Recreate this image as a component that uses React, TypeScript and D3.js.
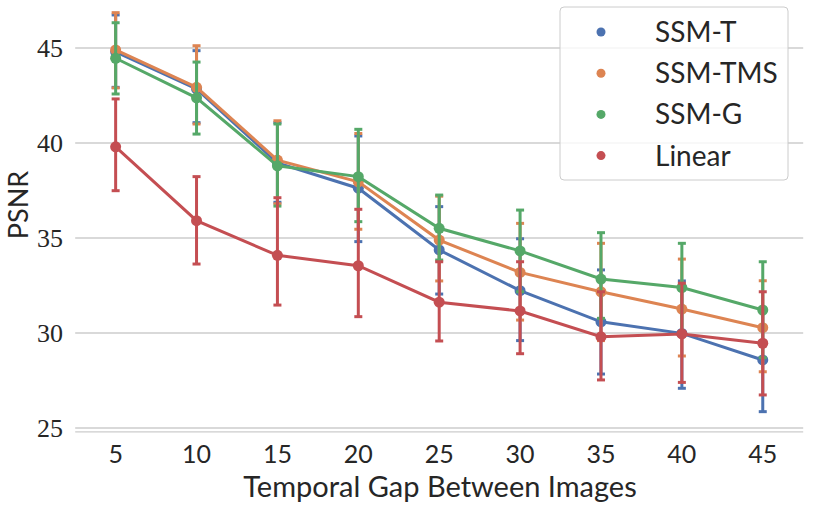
import React from "react";
import * as d3 from "d3";

const W = 831;
const H = 509;

const gaps = ["5", "10", "15", "20", "25", "30", "35", "40", "45"];
const yTicks = [25, 30, 35, 40, 45];

const seriesNames = ["SSM-T", "SSM-TMS", "SSM-G", "Linear"];
const seriesColors = ["#4C72B0", "#DD8452", "#55A868", "#C44E52"];

const ssmTMean = [44.8, 42.85, 38.95, 37.62, 34.37, 32.23, 30.59, 29.98, 28.58];
const ssmTLow = [42.93, 41.07, 36.88, 34.81, 32.05, 29.6, 27.84, 27.09, 25.86];
const ssmTHigh = [46.74, 44.86, 41.07, 40.37, 36.65, 34.96, 33.32, 32.74, 31.3];

const ssmTMSMean = [44.9, 42.93, 39.1, 37.96, 34.89, 33.19, 32.17, 31.26, 30.28];
const ssmTMSLow = [42.9, 41.0, 36.8, 35.46, 32.74, 30.68, 29.6, 28.79, 27.96];
const ssmTMSHigh = [46.86, 45.12, 41.17, 40.5, 37.2, 35.77, 34.72, 33.89, 32.75];

const ssmGMean = [44.46, 42.38, 38.8, 38.23, 35.51, 34.32, 32.84, 32.39, 31.21];
const ssmGLow = [42.58, 40.47, 36.68, 35.86, 33.84, 32.17, 30.77, 30.06, 28.7];
const ssmGHigh = [46.33, 44.26, 41.0, 40.72, 37.26, 36.47, 35.28, 34.72, 33.75];

const linearMean = [39.8, 35.91, 34.09, 33.54, 31.62, 31.16, 29.8, 29.95, 29.46];
const linearLow = [37.49, 33.63, 31.47, 30.86, 29.58, 28.91, 27.53, 27.4, 26.74];
const linearHigh = [42.32, 38.23, 37.12, 36.51, 33.75, 33.75, 32.17, 32.62, 32.17];

const means = [ssmTMean, ssmTMSMean, ssmGMean, linearMean];
const lows = [ssmTLow, ssmTMSLow, ssmGLow, linearLow];
const highs = [ssmTHigh, ssmTMSHigh, ssmGHigh, linearHigh];

const SANS = "Lato, 'Noto Sans', sans-serif";
const SERIF = "'Liberation Serif', 'DejaVu Serif', serif";
const TEXT = "#262626";
const GRID = "#cccccc";

export default function App() {
  const left = 75.2;
  const right = 803.2;
  const x = d3.scalePoint<string>().domain(gaps).range([left, right]).padding(0.5);
  const y = d3.scaleLinear().domain([24.8, 47]).range([431.8, 10]);

  const line = d3
    .line<number>()
    .x((_, i) => x(gaps[i]) as number)
    .y((d) => y(d));

  const capHalf = 4;

  return (
    <svg
      width={W}
      height={H}
      style={{ position: "absolute", left: 0, top: 0, background: "#fff" }}
    >
      {/* grid */}
      {yTicks.map((t) => (
        <line key={"g" + t} x1={left} x2={right} y1={y(t)} y2={y(t)} stroke={GRID} strokeWidth={1.3} />
      ))}
      {/* bottom spine */}
      <line x1={left} x2={right} y1={y(24.8)} y2={y(24.8)} stroke={GRID} strokeWidth={1.3} />

      {/* y tick labels */}
      {yTicks.map((t) => (
        <text
          key={"yt" + t}
          x={63}
          y={y(t)}
          dy="0.35em"
          textAnchor="end"
          fontFamily={SERIF}
          fontSize={26}
          fill={TEXT}
        >
          {t}
        </text>
      ))}
      {/* x tick labels */}
      {gaps.map((g) => (
        <text
          key={"xt" + g}
          x={x(g)}
          y={463}
          textAnchor="middle"
          fontFamily={SANS}
          fontSize={25}
          fill={TEXT}
        >
          {g}
        </text>
      ))}
      <text x={440} y={497} textAnchor="middle" fontFamily={SANS} fontSize={29} fill={TEXT}>
        Temporal Gap Between Images
      </text>
      <text
        transform="translate(28,205) rotate(-90)"
        textAnchor="middle"
        fontFamily={SANS}
        fontSize={27}
        fill={TEXT}
      >
        PSNR
      </text>

      {/* series */}
      {seriesNames.map((name, s) => {
        const c = seriesColors[s];
        return (
          <g key={name}>
            <path d={line(means[s]) || ""} fill="none" stroke={c} strokeWidth={3} />
            {gaps.map((g, i) => {
              const cx = x(g) as number;
              return (
                <g key={g}>
                  <line x1={cx} x2={cx} y1={y(lows[s][i])} y2={y(highs[s][i])} stroke={c} strokeWidth={3} />
                  <line x1={cx - capHalf} x2={cx + capHalf} y1={y(lows[s][i])} y2={y(lows[s][i])} stroke={c} strokeWidth={3} />
                  <line x1={cx - capHalf} x2={cx + capHalf} y1={y(highs[s][i])} y2={y(highs[s][i])} stroke={c} strokeWidth={3} />
                </g>
              );
            })}
            {gaps.map((g, i) => (
              <circle key={"p" + g} cx={x(g)} cy={y(means[s][i])} r={5.5} fill={c} />
            ))}
          </g>
        );
      })}

      {/* legend */}
      <rect x={560} y={7} width={228} height={173} rx={4} fill="#fff" fillOpacity={0.8} stroke={GRID} strokeWidth={1} />
      {seriesNames.map((name, s) => (
        <g key={"lg" + name} transform={`translate(0, ${32 + s * 41.2})`}>
          <circle cx={601} cy={0} r={4.5} fill={seriesColors[s]} />
          <text x={655} y={0} dy="0.36em" fontFamily={SANS} fontSize={28} fill={TEXT}>
            {name}
          </text>
        </g>
      ))}
    </svg>
  );
}
